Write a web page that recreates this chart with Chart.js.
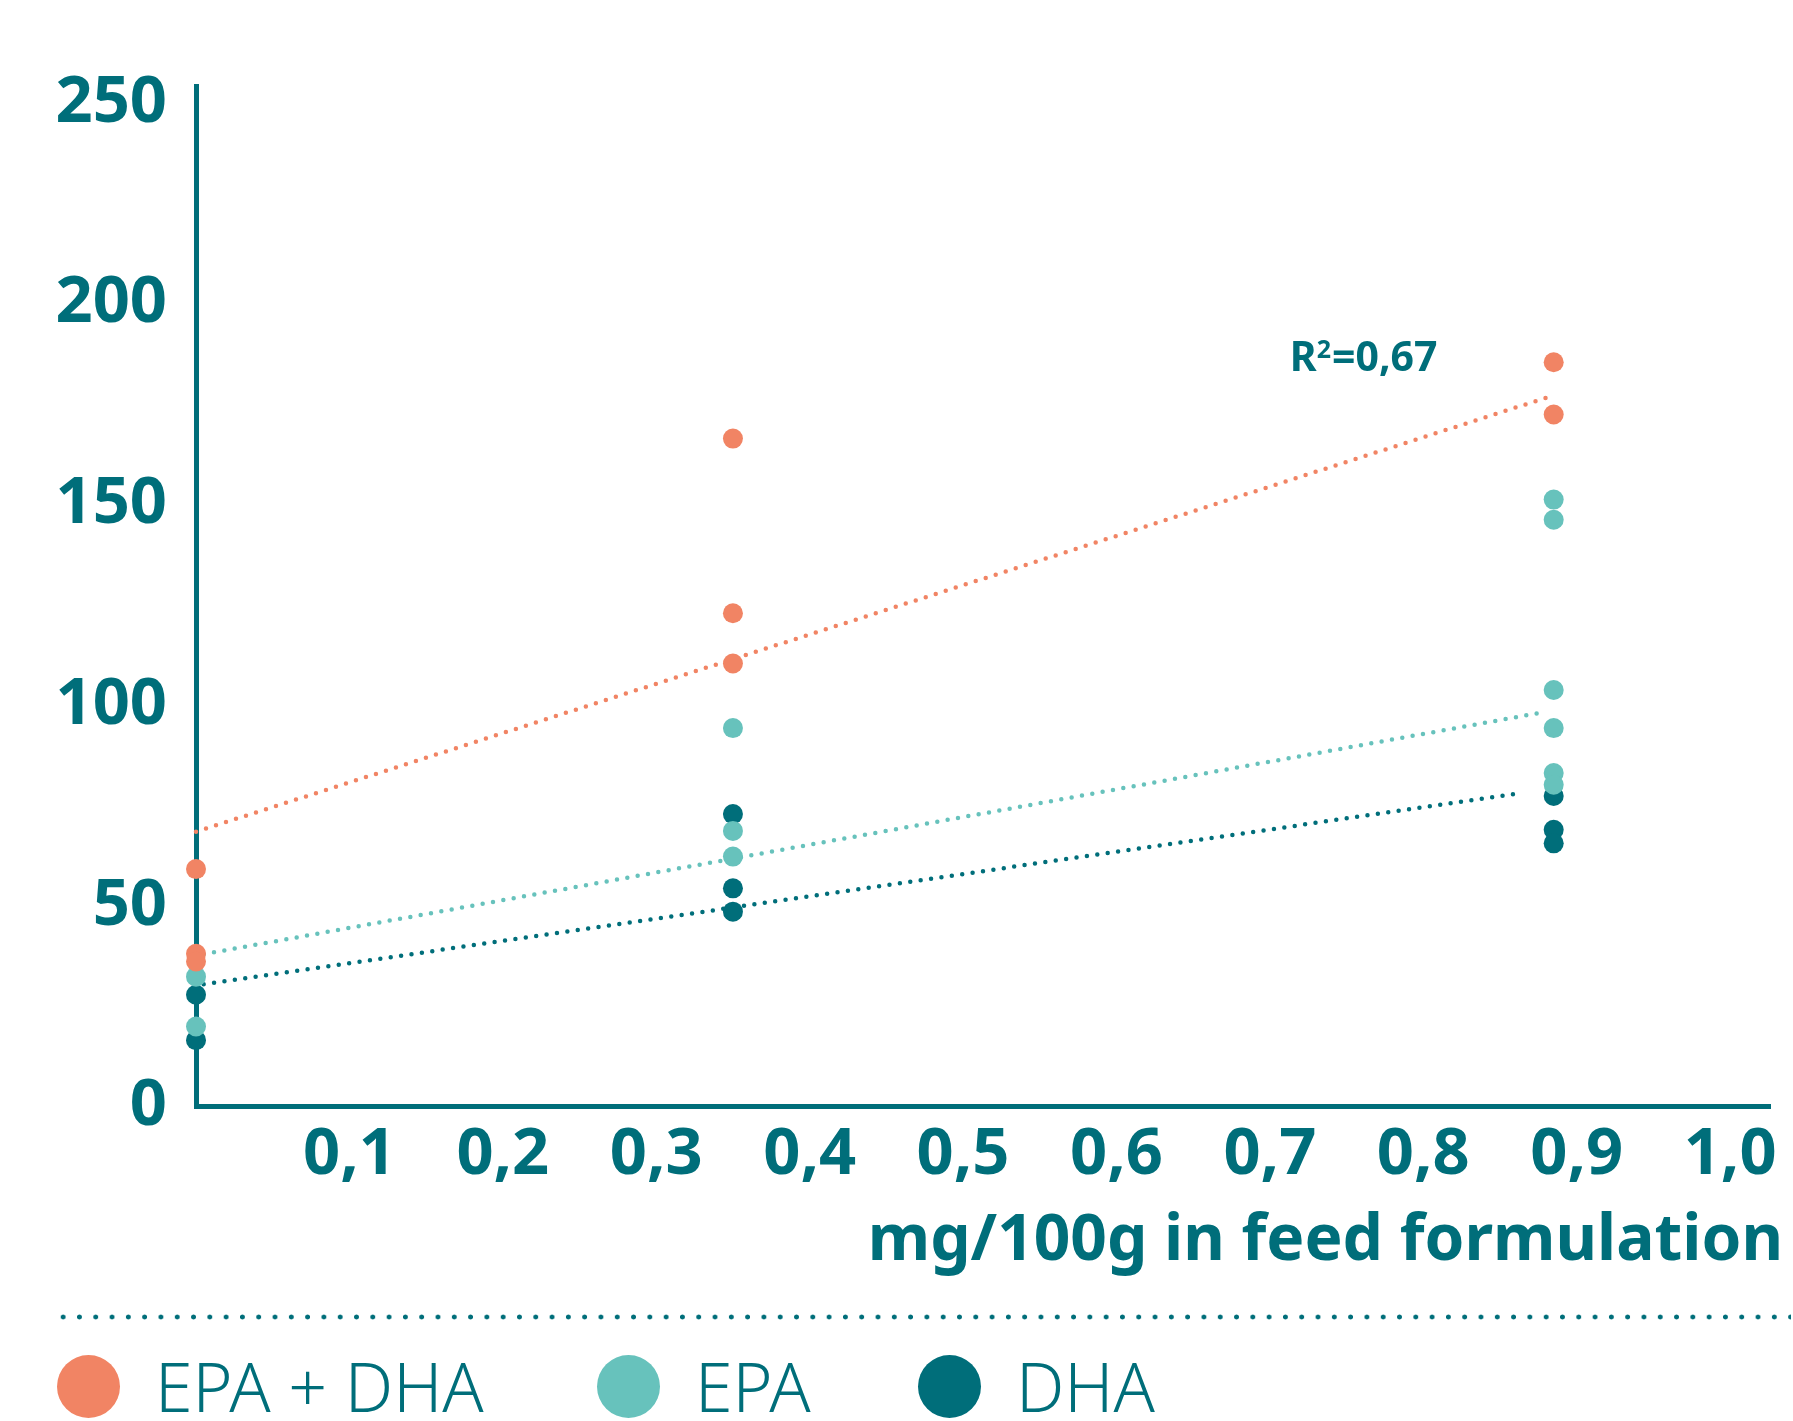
<!DOCTYPE html>
<html>
<head>
<meta charset="utf-8">
<script src="https://cdn.jsdelivr.net/npm/chart.js@4.4.1/dist/chart.umd.min.js"></script>
<style>
  html, body { margin: 0; padding: 0; background: #ffffff; }
  #wrap { position: relative; width: 1793px; height: 1421px; overflow: hidden; background: #fff; }
  #c { position: absolute; left: 0; top: 0; }
  .sep { position: absolute; left: 55px; top: 1314px; width: 1736px; height: 6px;
         background-image: radial-gradient(circle at center, #006E7A 2.1px, rgba(0,110,122,0) 2.8px);
         background-size: 16.3px 6px; background-repeat: repeat-x; }
  .legend-item { position: absolute; top: 1354px; height: 64px; display: flex; align-items: center; }
  .legend-dot { width: 63px; height: 63px; border-radius: 50%; flex: none; }
  .legend-lbl { font-family: "Noto Sans", sans-serif; font-weight: 300; font-size: 68px; color: #006E7A;
                margin-left: 35px; line-height: 1; white-space: nowrap; }
</style>
</head>
<body>
<div id="wrap">
  <canvas id="c" width="1793" height="1421"></canvas>
  <div class="sep"></div>
  <div id="legend"></div>
</div>
<script>
// ---------- DATA ----------
const seriesLabels = ['EPA + DHA', 'EPA', 'DHA'];

const epaDhaX = [0, 0, 0, 0.35, 0.35, 0.35, 0.885, 0.885];
const epaDhaY = [58.0, 36.9, 35.0, 165.2, 121.7, 109.2, 184.2, 171.2];

const epaX = [0, 0, 0.35, 0.35, 0.35, 0.885, 0.885, 0.885, 0.885, 0.885, 0.885];
const epaY = [31.2, 18.8, 93.1, 67.5, 61.1, 150.0, 145.0, 102.6, 93.1, 81.9, 79.0];

const dhaX = [0, 0, 0.35, 0.35, 0.35, 0.885, 0.885, 0.885];
const dhaY = [26.7, 15.4, 71.7, 53.2, 47.4, 76.2, 67.8, 64.4];

// trend lines (end points)
const trendEpaDhaX = [0, 0.882];
const trendEpaDhaY = [67.3, 175.6];
const trendEpaX = [0.005, 0.879];
const trendEpaY = [36.8, 97.1];
const trendDhaX = [0.005, 0.863];
const trendDhaY = [29.3, 76.9];

const xTickValues = [0.1, 0.2, 0.3, 0.4, 0.5, 0.6, 0.7, 0.8, 0.9, 1.0];
const xTickLabels = ['0,1', '0,2', '0,3', '0,4', '0,5', '0,6', '0,7', '0,8', '0,9', '1,0'];
const yTickValues = [0, 50, 100, 150, 200, 250];
const yTickLabels = ['0', '50', '100', '150', '200', '250'];

const xAxisTitle = 'mg/100g in feed formulation';
const r2Text = { base: 'R', sup: '2', rest: '=0,67' };
const r2Pos = { x: 0.713, y: 185.8 };

// ---------- STYLE ----------
const COL_ORANGE = '#F18464';
const COL_LIGHT = '#67C2BC';
const COL_DARK = '#006E7A';
const seriesColors = [COL_ORANGE, COL_LIGHT, COL_DARK];

const pts = (xs, ys) => xs.map((x, i) => ({ x: x, y: ys[i] }));

function scatterSet(label, xs, ys, color) {
  return { label, data: pts(xs, ys), backgroundColor: color, borderColor: color, clip: false,
           borderWidth: 0, pointRadius: 10, pointHoverRadius: 10, showLine: false };
}
function trendSet(label, xs, ys, color) {
  return { label, data: pts(xs, ys), borderColor: color, backgroundColor: color, clip: false,
           showLine: true, pointRadius: 0, pointHoverRadius: 0, borderWidth: 4.5,
           borderDash: [0, 10.5], borderCapStyle: 'round', fill: false, tension: 0 };
}

const textPlugin = {
  id: 'extraText',
  afterDraw(chart) {
    const { ctx, scales } = chart;
    ctx.save();
    ctx.fillStyle = COL_DARK;
    // x axis title, right aligned a little past the axis end
    ctx.font = 'bold 64px "Noto Sans"';
    ctx.textAlign = 'right';
    ctx.textBaseline = 'middle';
    ctx.fillText(xAxisTitle, scales.x.right + 13, scales.x.bottom - 35.5);
    // R² label
    const px = scales.x.getPixelForValue(r2Pos.x);
    const py = scales.y.getPixelForValue(r2Pos.y);
    ctx.textBaseline = 'alphabetic';
    ctx.textAlign = 'left';
    ctx.font = 'bold 41px "Noto Sans"';
    const base = py + 15;
    ctx.fillText(r2Text.base, px, base);
    let w = ctx.measureText(r2Text.base).width;
    ctx.font = 'bold 25px "Noto Sans"';
    ctx.fillText(r2Text.sup, px + w, base - 13);
    w += ctx.measureText(r2Text.sup).width + 1;
    ctx.font = 'bold 41px "Noto Sans"';
    ctx.fillText(r2Text.rest, px + w, base);
    ctx.restore();
  }
};

const tickFont = { family: 'Noto Sans', weight: 'bold', size: 65 };

new Chart(document.getElementById('c').getContext('2d'), {
  type: 'scatter',
  data: {
    datasets: [
      scatterSet(seriesLabels[0], epaDhaX, epaDhaY, COL_ORANGE),
      scatterSet(seriesLabels[1], epaX, epaY, COL_LIGHT),
      scatterSet(seriesLabels[2], dhaX, dhaY, COL_DARK),
      trendSet(seriesLabels[0] + ' trend', trendEpaDhaX, trendEpaDhaY, COL_ORANGE),
      trendSet(seriesLabels[1] + ' trend', trendEpaX, trendEpaY, COL_LIGHT),
      trendSet(seriesLabels[2] + ' trend', trendDhaX, trendDhaY, COL_DARK)
    ]
  },
  options: {
    responsive: false,
    animation: false,
    events: [],
    layout: { padding: { left: 0, right: 23, top: 86, bottom: 144 } },
    plugins: { legend: { display: false }, tooltip: { enabled: false } },
    scales: {
      x: {
        type: 'linear', min: 0, max: 1.026,
        afterBuildTicks: s => { s.ticks = xTickValues.map(v => ({ value: v })); },
        afterFit: s => { s.height = 171; },
        grid: { display: false, drawTicks: false },
        border: { display: true, color: COL_DARK, width: 5 },
        ticks: { font: tickFont, color: COL_DARK, padding: 10, maxRotation: 0, autoSkip: false,
                 callback: (v, i) => xTickLabels[i] },
        title: { display: false, text: xAxisTitle }
      },
      y: {
        type: 'linear', min: -1, max: 253,
        afterBuildTicks: s => { s.ticks = yTickValues.map(v => ({ value: v })); },
        afterFit: s => { s.width = 196; },
        grid: { display: false, drawTicks: false },
        border: { display: true, color: COL_DARK, width: 5 },
        ticks: { font: tickFont, color: COL_DARK, padding: 29, autoSkip: false, labelOffset: 5,
                 callback: (v, i) => yTickLabels[i] }
      }
    }
  },
  plugins: [textPlugin]
});

// ---------- HTML legend ----------
const legendLefts = [57, 597, 918];
const legendEl = document.getElementById('legend');
seriesLabels.forEach((lbl, i) => {
  const item = document.createElement('div');
  item.className = 'legend-item';
  item.style.left = legendLefts[i] + 'px';
  const dot = document.createElement('div');
  dot.className = 'legend-dot';
  dot.style.background = seriesColors[i];
  const t = document.createElement('span');
  t.className = 'legend-lbl';
  t.textContent = lbl;
  item.appendChild(dot);
  item.appendChild(t);
  legendEl.appendChild(item);
});
</script>
</body>
</html>
